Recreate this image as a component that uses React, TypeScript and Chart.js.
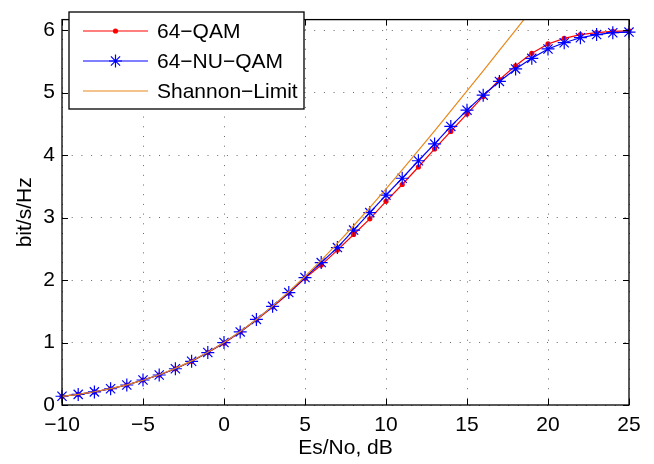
import React, { useEffect, useRef } from 'react';
import { Chart, registerables } from 'chart.js';

Chart.register(...registerables);

// ---- data ----
const snrDb = [-10, -9, -8, -7, -6, -5, -4, -3, -2, -1, 0, 1, 2, 3, 4, 5, 6, 7, 8, 9, 10, 11, 12, 13, 14, 15, 16, 17, 18, 19, 20, 21, 22, 23, 24, 25];
const qam64 = [0.14, 0.17, 0.21, 0.26, 0.32, 0.40, 0.48, 0.58, 0.70, 0.84, 0.99, 1.17, 1.36, 1.57, 1.79, 2.03, 2.24, 2.48, 2.73, 2.98, 3.26, 3.53, 3.81, 4.10, 4.38, 4.66, 4.94, 5.21, 5.43, 5.63, 5.78, 5.87, 5.93, 5.96, 5.98, 5.99];
const nuQam64 = [0.14, 0.17, 0.21, 0.26, 0.32, 0.40, 0.48, 0.58, 0.70, 0.84, 1.00, 1.17, 1.37, 1.58, 1.80, 2.04, 2.28, 2.52, 2.80, 3.08, 3.36, 3.63, 3.91, 4.18, 4.46, 4.72, 4.96, 5.18, 5.38, 5.55, 5.70, 5.80, 5.88, 5.93, 5.96, 5.97];
const shannonSnr = [-10, -9, -8, -7, -6, -5, -4, -3, -2, -1, 0, 1, 2, 3, 4, 5, 6, 7, 8, 9, 10, 11, 12, 13, 14, 15, 16, 17, 18, 19];
const shannonLimit = [0.1375, 0.171, 0.2122, 0.2625, 0.3233, 0.3964, 0.4834, 0.5861, 0.7057, 0.8435, 1.0, 1.1756, 1.3701, 1.5827, 1.8123, 2.0574, 2.3165, 2.5878, 2.8698, 3.1608, 3.4594, 3.7644, 4.0746, 4.389, 4.707, 5.0278, 5.3509, 5.6758, 6.0022, 6.3297];
const seriesLabels = ['64−QAM', '64−NU−QAM', 'Shannon−Limit'];
const xTicks = [-10, -5, 0, 5, 10, 15, 20, 25];
const xTickLabels = ['−10', '−5', '0', '5', '10', '15', '20', '25'];
const yTicks = [0, 1, 2, 3, 4, 5, 6];
const yTickLabels = ['0', '1', '2', '3', '4', '5', '6'];
const xTitle = 'Es/No, dB';
const yTitle = 'bit/s/Hz';

const FONT = "'Liberation Sans', Arial, Helvetica, sans-serif";
const RED = '#ff0000';
const BLUE = '#0000ff';
const ORANGE = '#e8881a';

function drawStar(ctx: CanvasRenderingContext2D, x: number, y: number, r: number) {
  ctx.beginPath();
  for (let k = 0; k < 4; k++) {
    const a = (k * Math.PI) / 4;
    const dx = Math.cos(a) * r;
    const dy = Math.sin(a) * r;
    ctx.moveTo(x - dx, y - dy);
    ctx.lineTo(x + dx, y + dy);
  }
  ctx.stroke();
}

const framePlugin = {
  id: 'matlabFrame',
  afterDatasetsDraw(chart: any) {
    const { ctx, chartArea } = chart;
    const { left, right, top, bottom } = chartArea;
    const xs = chart.scales.x;
    const ys = chart.scales.y;
    ctx.save();
    ctx.strokeStyle = '#000';
    ctx.lineWidth = 1;
    ctx.beginPath();
    const tl = 6;
    xTicks.forEach((v) => {
      const px = Math.round(xs.getPixelForValue(v)) + 0.5;
      ctx.moveTo(px, bottom);
      ctx.lineTo(px, bottom - tl);
      ctx.moveTo(px, top);
      ctx.lineTo(px, top + tl);
    });
    yTicks.forEach((v) => {
      const py = Math.round(ys.getPixelForValue(v)) + 0.5;
      ctx.moveTo(left, py);
      ctx.lineTo(left + tl, py);
      ctx.moveTo(right, py);
      ctx.lineTo(right - tl, py);
    });
    ctx.stroke();
    ctx.lineWidth = 1.3;
    ctx.strokeRect(left, top, right - left, bottom - top);

    // legend
    const bx = 69, by = 12, bw = 235, bh = 97;
    ctx.fillStyle = '#fff';
    ctx.fillRect(bx, by, bw, bh);
    ctx.lineWidth = 1.3;
    ctx.strokeStyle = '#000';
    ctx.strokeRect(bx, by, bw, bh);
    const rows = [31, 61, 91];
    chart.data.datasets.forEach((ds: any, i: number) => {
      const yy = rows[i];
      ctx.strokeStyle = ds.borderColor;
      ctx.lineWidth = 1.2;
      ctx.beginPath();
      ctx.moveTo(83, yy);
      ctx.lineTo(148, yy);
      ctx.stroke();
      if (ds.pointStyle === 'circle' && ds.pointRadius > 0) {
        ctx.fillStyle = ds.pointBackgroundColor;
        ctx.beginPath();
        ctx.arc(115.5, yy, ds.pointRadius, 0, Math.PI * 2);
        ctx.fill();
      } else if (ds.pointStyle === 'star' && ds.pointRadius > 0) {
        ctx.strokeStyle = ds.pointBorderColor;
        ctx.lineWidth = 1.2;
        drawStar(ctx, 115.5, yy, ds.pointRadius);
      }
      ctx.fillStyle = '#000';
      ctx.font = `21px ${FONT}`;
      ctx.textAlign = 'left';
      ctx.textBaseline = 'middle';
      ctx.fillText(ds.label, 157, yy + 1);
    });
    ctx.restore();
  },
};

export default function App() {
  const canvasRef = useRef<HTMLCanvasElement | null>(null);

  useEffect(() => {
    document.body.style.margin = '0';
    const canvas = canvasRef.current;
    if (!canvas) return;
    const chart = new Chart(canvas, {
      type: 'line',
      data: {
        datasets: [
          {
            label: seriesLabels[0],
            data: snrDb.map((x, i) => ({ x, y: qam64[i] })),
            borderColor: RED,
            backgroundColor: RED,
            borderWidth: 1.2,
            pointStyle: 'circle',
            pointRadius: 2.6,
            pointBackgroundColor: RED,
            pointBorderColor: RED,
            pointBorderWidth: 0,
            tension: 0,
            clip: false,
            order: 3,
          },
          {
            label: seriesLabels[1],
            data: snrDb.map((x, i) => ({ x, y: nuQam64[i] })),
            borderColor: BLUE,
            backgroundColor: BLUE,
            borderWidth: 1.2,
            pointStyle: 'star',
            pointRadius: 6.5,
            pointBackgroundColor: BLUE,
            pointBorderColor: BLUE,
            pointBorderWidth: 1.2,
            tension: 0,
            clip: false,
            order: 2,
          },
          {
            label: seriesLabels[2],
            data: shannonSnr.map((x, i) => ({ x, y: shannonLimit[i] })),
            borderColor: ORANGE,
            backgroundColor: ORANGE,
            borderWidth: 1.2,
            pointRadius: 0,
            tension: 0,
            order: 1,
          },
        ] as any,
      },
      options: {
        responsive: false,
        animation: false,
        events: [],
        layout: { padding: { top: 4, right: 25, left: 0, bottom: 0 } },
        plugins: {
          legend: { display: false },
          tooltip: { enabled: false },
          title: { display: false },
        },
        scales: {
          x: {
            type: 'linear',
            min: -10,
            max: 25,
            afterBuildTicks: (scale: any) => {
              scale.ticks = xTicks.map((v) => ({ value: v }));
            },
            afterFit: (scale: any) => {
              scale.height = 59;
            },
            ticks: {
              autoSkip: false,
              maxRotation: 0,
              padding: 8,
              color: '#000',
              font: { family: FONT, size: 21 },
              callback: (_v: any, i: number) => xTickLabels[i],
            },
            grid: {
              color: 'rgba(0,0,0,0.6)',
              lineWidth: 1,
              drawTicks: false,
            },
            border: { display: false, dash: [1, 8.7] },
            title: {
              display: true,
              text: xTitle,
              color: '#000',
              font: { family: FONT, size: 21 },
              padding: { top: 0, bottom: 3 },
            },
          },
          y: {
            type: 'linear',
            min: 0,
            max: 6.17,
            afterBuildTicks: (scale: any) => {
              scale.ticks = yTicks.map((v) => ({ value: v }));
            },
            afterFit: (scale: any) => {
              scale.width = 62;
            },
            ticks: {
              autoSkip: false,
              padding: 7,
              color: '#000',
              font: { family: FONT, size: 21 },
              callback: (_v: any, i: number) => yTickLabels[i],
            },
            grid: {
              color: 'rgba(0,0,0,0.6)',
              lineWidth: 1,
              drawTicks: false,
            },
            border: { display: false, dash: [1, 8.7] },
            title: {
              display: true,
              text: yTitle,
              color: '#000',
              font: { family: FONT, size: 21 },
              padding: { top: 13, bottom: 0 },
            },
          },
        },
      } as any,
      plugins: [framePlugin],
    });
    return () => chart.destroy();
  }, []);

  return (
    <div style={{ width: 654, height: 464, background: '#fff' }}>
      <canvas ref={canvasRef} width={654} height={464} style={{ display: 'block' }} />
    </div>
  );
}
